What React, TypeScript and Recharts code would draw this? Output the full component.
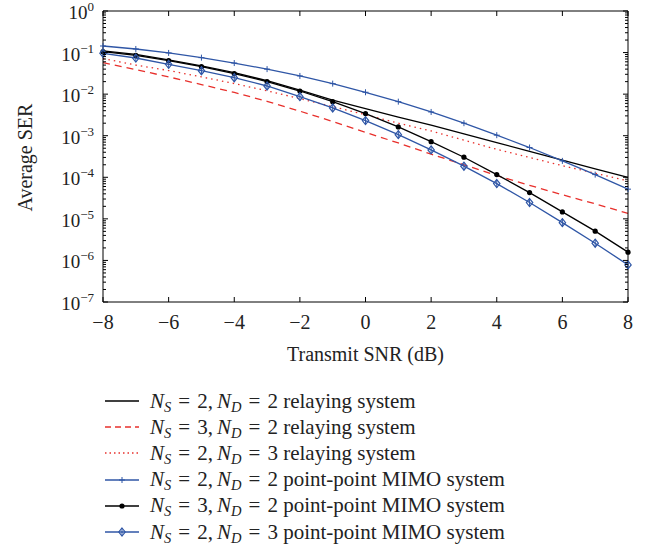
import { LineChart, Line, XAxis, YAxis } from 'recharts';

// SNR grid (dB)
const snr = [-8, -7, -6, -5, -4, -3, -2, -1, 0, 1, 2, 3, 4, 5, 6, 7, 8];

// relaying systems
const relay22 = [0.11, 0.09, 0.067, 0.048, 0.033, 0.021, 0.0125, 0.0072, 0.0045, 0.0028, 0.0018, 0.0011, 0.00068, 0.00042, 0.00026, 0.00016, 0.0001];
const relay32 = [0.057, 0.039, 0.026, 0.017, 0.011, 0.0067, 0.0039, 0.0022, 0.0012, 0.00067, 0.00036, 0.0002, 0.00011, 6.4e-5, 3.8e-5, 2.3e-5, 1.35e-5];
const relay23 = [0.072, 0.05, 0.037, 0.026, 0.018, 0.012, 0.0078, 0.005, 0.0032, 0.002, 0.0013, 0.00078, 0.00047, 0.0003, 0.00019, 0.000125, 8.2e-5];

// point-point MIMO systems
const mimo22 = [0.144, 0.122, 0.098, 0.0755, 0.056, 0.04, 0.0274, 0.0179, 0.0111, 0.0066, 0.00373, 0.002, 0.00103, 0.00052, 0.000248, 0.000116, 5.18e-5];
const mimo32 = [0.105, 0.086, 0.0638, 0.0458, 0.0311, 0.02, 0.0119, 0.0066, 0.0034, 0.00163, 0.00072, 0.000304, 0.000116, 4.29e-5, 1.47e-5, 5.06e-6, 1.58e-6];
const mimo23 = [0.096, 0.074, 0.0523, 0.0367, 0.0249, 0.0157, 0.0087, 0.00466, 0.00231, 0.00106, 0.000456, 0.000185, 7.06e-5, 2.47e-5, 8.1e-6, 2.6e-6, 7.8e-7];

const xTicks = [-8, -6, -4, -2, 0, 2, 4, 6, 8];

const BLUE = '#2f56a6';
const RED = '#e8302c';
const FONT = '"Liberation Serif", "DejaVu Serif", serif';

const data = snr.map((s, i) => ({
  snr: s,
  relay22: relay22[i],
  relay32: relay32[i],
  relay23: relay23[i],
  mimo22: mimo22[i],
  mimo32: mimo32[i],
  mimo23: mimo23[i],
}));

// major + minor ticks for the log axis
const yTicks: number[] = [];
for (let e = -7; e <= 0; e++) {
  yTicks.push(Math.pow(10, e));
  if (e < 0) for (let m = 2; m <= 9; m++) yTicks.push(m * Math.pow(10, e));
}
const isMajor = (v: number) => Math.abs(Math.log10(v) - Math.round(Math.log10(v))) < 1e-6;

const BottomTick = (props: any) => {
  const { x, y, payload } = props;
  return (
    <g>
      <line x1={x} y1={y} x2={x} y2={y - 5} stroke="#000" />
      <text x={x} y={y + 27} textAnchor="middle" fontSize={20} fontFamily={FONT} fill="#222">
        {payload.value < 0 ? '\u2212' + Math.abs(payload.value) : payload.value}
      </text>
    </g>
  );
};

const TopTick = (props: any) => {
  const { x, y } = props;
  return <line x1={x} y1={y} x2={x} y2={y + 5} stroke="#000" />;
};

const LeftTick = (props: any) => {
  const { x, y, payload } = props;
  const major = isMajor(payload.value);
  const exp = Math.round(Math.log10(payload.value));
  return (
    <g>
      <line x1={x} y1={y} x2={x + (major ? 5 : 3)} y2={y} stroke="#000" />
      {major && (
        <text x={x - 9} y={y + 8} textAnchor="end" fontSize={19} fontFamily={FONT} fill="#222">
          10
          <tspan dy={-8} fontSize={13}>
            {exp === 0 ? '0' : '\u2212' + Math.abs(exp)}
          </tspan>
        </text>
      )}
    </g>
  );
};

const RightTick = (props: any) => {
  const { x, y, payload } = props;
  const major = isMajor(payload.value);
  return <line x1={x} y1={y} x2={x - (major ? 5 : 3)} y2={y} stroke="#000" />;
};

const PlusDot = (props: any) => {
  const { cx, cy, stroke } = props;
  return (
    <g>
      <line x1={cx - 3} y1={cy} x2={cx + 3} y2={cy} stroke={stroke} strokeWidth={1} />
      <line x1={cx} y1={cy - 3} x2={cx} y2={cy + 3} stroke={stroke} strokeWidth={1} />
    </g>
  );
};

const CircleDot = (props: any) => {
  const { cx, cy } = props;
  return <circle cx={cx} cy={cy} r={2.6} fill="#000" />;
};

const DiamondDot = (props: any) => {
  const { cx, cy, stroke } = props;
  return (
    <g>
      <path d={`M${cx},${cy - 4} L${cx + 3.2},${cy} L${cx},${cy + 4} L${cx - 3.2},${cy} Z`} fill="none" stroke={stroke} strokeWidth={1.2} />
      <line x1={cx} y1={cy - 4} x2={cx} y2={cy + 4} stroke={stroke} strokeWidth={1} />
    </g>
  );
};

const legendItems = [
  { ns: 2, nd: 2, kind: 'relaying system', color: '#000', dash: undefined, marker: 'none' },
  { ns: 3, nd: 2, kind: 'relaying system', color: RED, dash: '6 4', marker: 'none' },
  { ns: 2, nd: 3, kind: 'relaying system', color: RED, dash: '1.5 3', marker: 'none' },
  { ns: 2, nd: 2, kind: 'point-point MIMO system', color: BLUE, dash: undefined, marker: 'plus' },
  { ns: 3, nd: 2, kind: 'point-point MIMO system', color: '#000', dash: undefined, marker: 'circle' },
  { ns: 2, nd: 3, kind: 'point-point MIMO system', color: BLUE, dash: undefined, marker: 'diamond' },
];

const Sub = ({ c }: { c: string }) => (
  <i style={{ fontSize: 14.5, position: 'relative', top: 4 }}>{c}</i>
);

export default function App() {
  return (
    <div style={{ position: 'absolute', left: 0, top: 0, width: 648, height: 548, background: '#fff', fontFamily: FONT }}>
      <LineChart
        width={648}
        height={548}
        data={data}
        margin={{ top: 1, right: 10, left: 43, bottom: 216 }}
      >
        <XAxis
          dataKey="snr"
          type="number"
          domain={[-8, 8]}
          ticks={xTicks}
          height={30}
          tickSize={0}
          tickMargin={0}
          tickLine={false}
          axisLine={{ stroke: '#000' }}
          tick={<BottomTick />}
          interval={0}
          label={{ value: 'Transmit SNR (dB)', position: 'insideBottom', offset: -29, fontSize: 20, fontFamily: FONT, fill: '#222' }}
        />
        <XAxis
          xAxisId="top"
          orientation="top"
          dataKey="snr"
          type="number"
          domain={[-8, 8]}
          ticks={xTicks}
          height={10}
          tickSize={0}
          tickMargin={0}
          tickLine={false}
          axisLine={{ stroke: '#000' }}
          tick={<TopTick />}
          interval={0}
        />
        <YAxis
          scale="log"
          type="number"
          domain={[1e-7, 1]}
          allowDataOverflow
          ticks={yTicks}
          width={60}
          tickSize={0}
          tickMargin={0}
          tickLine={false}
          axisLine={{ stroke: '#000' }}
          tick={<LeftTick />}
          interval={0}
          label={{ value: 'Average SER', angle: -90, position: 'insideLeft', offset: -18, dy: 55, fontSize: 20, fontFamily: FONT, fill: '#222' }}
        />
        <YAxis
          yAxisId="right"
          orientation="right"
          scale="log"
          type="number"
          domain={[1e-7, 1]}
          allowDataOverflow
          ticks={yTicks}
          width={10}
          tickSize={0}
          tickMargin={0}
          tickLine={false}
          axisLine={{ stroke: '#000' }}
          tick={<RightTick />}
          interval={0}
        />
        <Line dataKey="relay22" stroke="#000" strokeWidth={1.3} dot={false} isAnimationActive={false} />
        <Line dataKey="relay32" stroke={RED} strokeWidth={1.3} strokeDasharray="7 5" dot={false} isAnimationActive={false} />
        <Line dataKey="relay23" stroke={RED} strokeWidth={1.3} strokeDasharray="1.5 4" dot={false} isAnimationActive={false} />
        <Line dataKey="mimo22" stroke={BLUE} strokeWidth={1.3} dot={<PlusDot />} isAnimationActive={false} />
        <Line dataKey="mimo32" stroke="#000" strokeWidth={1.3} dot={<CircleDot />} isAnimationActive={false} />
        <Line dataKey="mimo23" stroke={BLUE} strokeWidth={1.3} dot={<DiamondDot />} isAnimationActive={false} />
      </LineChart>
      <div style={{ position: 'absolute', left: 104, top: 388 }}>
        {legendItems.map((it, i) => (
          <div key={i} style={{ display: 'flex', alignItems: 'center', height: 26.2, fontSize: 21, color: '#222', whiteSpace: 'nowrap' }}>
            <svg width={36} height={12} style={{ marginRight: 10 }}>
              <line x1={1} y1={6} x2={35} y2={6} stroke={it.color} strokeWidth={1.3} strokeDasharray={it.dash} />
              {it.marker === 'plus' && <PlusDot cx={18} cy={6} stroke={it.color} />}
              {it.marker === 'circle' && <CircleDot cx={18} cy={6} />}
              {it.marker === 'diamond' && <DiamondDot cx={18} cy={6} stroke={it.color} />}
            </svg>
            <span>
              <i>N</i><Sub c="S" />{'\u2004=\u2004'}{it.ns},{'\u2009'}<i>N</i><Sub c="D" />{'\u2004=\u2004'}{it.nd} {it.kind}
            </span>
          </div>
        ))}
      </div>
    </div>
  );
}
